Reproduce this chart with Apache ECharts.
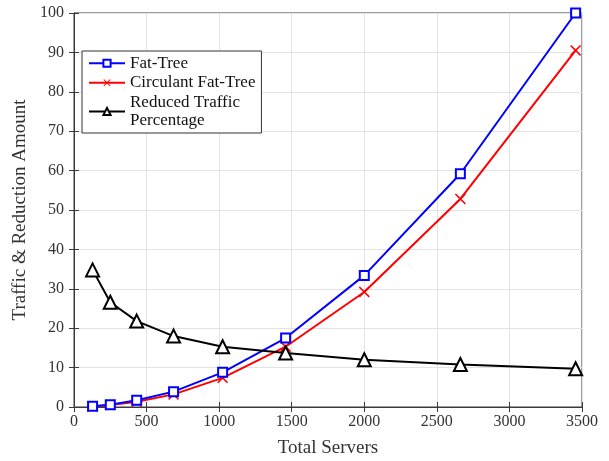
<!DOCTYPE html>
<html>
<head>
<meta charset="UTF-8">
<title></title>
<script src="https://cdn.jsdelivr.net/npm/echarts@6/dist/echarts.min.js"></script>
<style>
html,body{margin:0;padding:0;background:#fff;}
#main{width:609px;height:461px;}
</style>
</head>
<body>
<div id="main"></div>
<script>
// data
var servers = [128, 250, 432, 686, 1024, 1458, 2000, 2662, 3456];
var fatTree = [0.2, 0.6, 1.7, 3.9, 8.8, 17.5, 33.4, 59.2, 100];
var circulant = [0.15, 0.5, 1.35, 3.2, 7.4, 15.3, 29.2, 52.8, 90.5];
var reduced = [34.8, 26.6, 21.8, 18.0, 15.3, 13.7, 12.0, 10.8, 9.7];
var names = ['Fat-Tree', 'Circulant Fat-Tree', 'Reduced Traffic\nPercentage'];

function pairs(xs, ys) {
	var out = [];
	for (var i = 0; i < xs.length; i++) out.push([xs[i], ys[i]]);
	return out;
}

var serif = 'Liberation Serif';
var crossPath = 'path://M1,0L5,4L9,0L10,1L6,5L10,9L9,10L5,6L1,10L0,9L4,5L0,1Z';
var axisCol = '#3a3a3a';

var myChart = echarts.init(document.getElementById('main'));
var option = {
	animation: false,
	backgroundColor: '#fff',
	textStyle: {fontFamily: serif},
	grid: {left: 74, right: 27, top: 13, bottom: 54, outerBoundsMode: 'none',
		show: true, borderColor: axisCol, borderWidth: 1},
	legend: {
		orient: 'vertical',
		left: 82, top: 51,
		padding: [3, 6, 3, 6],
		itemGap: 1,
		itemWidth: 36, itemHeight: 9,
		borderColor: '#333', borderWidth: 1,
		backgroundColor: '#fff',
		textStyle: {fontFamily: serif, fontSize: 17, color: '#111', lineHeight: 18.5},
		data: names
	},
	xAxis: [{
		type: 'value', min: 0, max: 3500, interval: 500,
		name: 'Total Servers', nameLocation: 'middle', nameGap: 32,
		nameTextStyle: {fontFamily: serif, fontSize: 19, color: '#333'},
		axisLine: {show: true, lineStyle: {color: axisCol}},
		axisTick: {show: true, inside: true, length: 5, lineStyle: {color: axisCol}},
		axisLabel: {fontFamily: serif, fontSize: 16, color: '#333', margin: 7,
			formatter: function (v) { return String(v); }},
		splitLine: {show: true, lineStyle: {color: '#e3e3e3'}}
	}, {
		type: 'value', position: 'top', min: 0, max: 3500, interval: 500,
		axisLine: {show: true, lineStyle: {color: axisCol}},
		axisTick: {inside: true, length: 5, lineStyle: {color: axisCol}},
		axisLabel: {show: false}, splitLine: {show: false}
	}],
	yAxis: [{
		type: 'value', min: 0, max: 100, interval: 10,
		name: 'Traffic & Reduction Amount', nameLocation: 'middle', nameGap: 42,
		nameTextStyle: {fontFamily: serif, fontSize: 19, color: '#333'},
		axisLine: {show: true, lineStyle: {color: axisCol}},
		axisTick: {show: true, inside: true, length: 5, lineStyle: {color: axisCol}},
		axisLabel: {fontFamily: serif, fontSize: 16, color: '#333', margin: 10},
		splitLine: {show: true, lineStyle: {color: '#e3e3e3'}}
	}, {
		type: 'value', position: 'right', min: 0, max: 100, interval: 10,
		axisLine: {show: true, lineStyle: {color: axisCol}},
		axisTick: {inside: true, length: 5, lineStyle: {color: axisCol}},
		axisLabel: {show: false}, splitLine: {show: false}
	}],
	series: [{
		name: names[0], type: 'line',
		data: pairs(servers, fatTree),
		symbol: 'rect', symbolSize: 9,
		lineStyle: {color: '#0000ff', width: 2},
		itemStyle: {color: '#fff', borderColor: '#0000ff', borderWidth: 2},
		z: 3
	}, {
		name: names[1], type: 'line',
		data: pairs(servers, circulant),
		symbol: crossPath, symbolSize: 11,
		lineStyle: {color: '#ff0000', width: 2},
		itemStyle: {color: '#ff0000', borderWidth: 0},
		z: 2
	}, {
		name: names[2], type: 'line',
		data: pairs(servers, reduced),
		symbol: 'triangle', symbolSize: 13,
		lineStyle: {color: '#000', width: 2},
		itemStyle: {color: '#fff', borderColor: '#000', borderWidth: 2},
		z: 4
	}]
};
myChart.setOption(option);
</script>
</body>
</html>
